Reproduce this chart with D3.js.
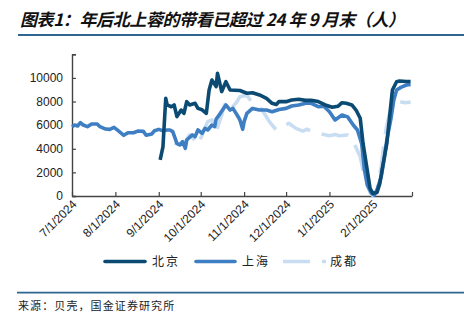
<!DOCTYPE html>
<html>
<head>
<meta charset="utf-8">
<script src="https://cdn.jsdelivr.net/npm/d3@7/dist/d3.min.js"></script>
<style>
  html, body { margin: 0; padding: 0; background: #fff; }
  svg { display: block; }
</style>
</head>
<body>
<svg id="chart" width="464" height="327"></svg>
<script>
// Daily viewing counts (people) for Beijing, Shanghai and Chengdu
const seriesNames = ["北京", "上海", "成都"];
const seriesColors = ["#0b4a72", "#3e7ec2", "#c8ddf1"];

const bjDates = ["2024-09-02","2024-09-04","2024-09-06","2024-09-07","2024-09-10","2024-09-12","2024-09-14","2024-09-17","2024-09-19","2024-09-21","2024-09-23","2024-09-27","2024-09-29","2024-10-02","2024-10-05","2024-10-07","2024-10-09","2024-10-12","2024-10-13","2024-10-16","2024-10-18","2024-10-19","2024-10-22","2024-10-29","2024-11-03","2024-11-07","2024-11-12","2024-11-17","2024-11-21","2024-11-24","2024-11-26","2024-12-01","2024-12-05","2024-12-10","2024-12-15","2024-12-19","2024-12-24","2024-12-29","2025-01-03","2025-01-07","2025-01-10","2025-01-13","2025-01-17","2025-01-20","2025-01-23","2025-01-25","2025-01-28","2025-01-30","2025-02-01","2025-02-04","2025-02-06","2025-02-08","2025-02-11","2025-02-13","2025-02-15","2025-02-18","2025-02-20","2025-02-25","2025-02-28"];
const bjValues = [3050,4170,8270,7710,7560,7710,6720,7280,7000,7990,7710,7850,7420,7300,7000,8980,9820,9260,10390,8840,9400,9680,8980,8930,8700,8750,8560,8270,7850,7750,8000,7990,8130,8190,8100,8100,8000,7710,7510,7600,7900,7850,7710,7280,6580,4460,2200,650,220,300,1070,2480,4460,6720,8980,9680,9740,9700,9700];

const shDates = ["2024-07-01","2024-07-03","2024-07-05","2024-07-07","2024-07-09","2024-07-12","2024-07-15","2024-07-19","2024-07-21","2024-07-25","2024-07-28","2024-07-31","2024-08-03","2024-08-07","2024-08-10","2024-08-14","2024-08-17","2024-08-21","2024-08-23","2024-08-27","2024-08-29","2024-09-01","2024-09-04","2024-09-07","2024-09-09","2024-09-11","2024-09-14","2024-09-16","2024-09-18","2024-09-20","2024-09-21","2024-09-25","2024-09-27","2024-09-29","2024-10-02","2024-10-04","2024-10-06","2024-10-09","2024-10-11","2024-10-12","2024-10-15","2024-10-19","2024-10-22","2024-10-24","2024-10-27","2024-10-29","2024-10-31","2024-11-01","2024-11-03","2024-11-07","2024-11-12","2024-11-17","2024-11-21","2024-11-26","2024-12-01","2024-12-05","2024-12-10","2024-12-15","2024-12-19","2024-12-24","2024-12-28","2025-01-01","2025-01-05","2025-01-10","2025-01-14","2025-01-18","2025-01-21","2025-01-24","2025-01-26","2025-01-28","2025-01-31","2025-02-02","2025-02-04","2025-02-07","2025-02-09","2025-02-11","2025-02-14","2025-02-16","2025-02-18","2025-02-21","2025-02-25","2025-02-28"];
const shValues = [5870,6010,5930,6210,6010,5870,6100,6100,5870,5670,5640,5810,5530,5140,5360,5360,5500,5470,5140,5250,5530,5640,5530,5590,5590,5450,4460,4320,4600,4040,4740,5170,5030,5590,5310,5730,5590,6010,5870,6500,7000,7710,7280,7420,6860,6440,5650,6300,7000,7420,7280,7280,7140,7330,7420,7620,7700,7850,7850,7560,7600,7140,6440,6860,6700,6010,5590,4460,2200,930,230,80,510,1640,3050,4740,6580,8130,8980,9200,9400,9450];

const cdDates = ["2024-09-12","2024-09-16","2024-09-20","2024-09-23","2024-09-27","2024-09-29","2024-10-02","2024-10-06","2024-10-09","2024-10-11","2024-10-12","2024-10-16","2024-10-18","2024-10-20","2024-10-23","2024-10-27","2024-10-29","2024-11-03","2024-11-07","2024-11-11","2024-11-14","2024-11-19","2024-11-24","2024-11-28","2024-12-03","2024-12-08","2024-12-13","2024-12-16","2024-12-21","2024-12-24","2024-12-28","2025-01-01","2025-01-05","2025-01-08","2025-01-14","2025-01-18","2025-01-23","2025-01-25","2025-01-28","2025-01-30","2025-02-01","2025-02-04","2025-02-07","2025-02-09","2025-02-11","2025-02-13","2025-02-15","2025-02-20","2025-02-24","2025-02-28"];
const cdValues = [4460,4400,4600,5170,4740,4320,5170,6300,6440,5870,5450,6860,7710,7990,7420,7990,8410,8560,7850,7600,7280,6300,5590,5800,6160,5730,5500,5650,5400,5310,5200,5110,5200,5100,5170,4600,3330,2200,1000,300,50,500,2500,4500,6000,7000,7700,8000,7900,7950];

const yTicks = [0, 2000, 4000, 6000, 8000, 10000, 12000];
const yLabels = ["0", "2000", "4000", "6000", "8000", "10000", ""];
const titleText = "图表1：年后北上蓉的带看已超过 24 年 9 月末（人）";
const sourceText = "来源：贝壳，国金证券研究所";

const parse = d3.timeParse("%Y-%m-%d");
const svg = d3.select("#chart");

const x = d3.scaleTime()
  .domain([parse("2024-07-01"), parse("2025-03-01")])
  .range([72, 412]);
const y = d3.scaleLinear().domain([0, 12000]).range([196, 54.3]);

// Title and rules
svg.append("text")
  .attr("x", 20).attr("y", 26)
  .attr("font-family", "'Noto Sans CJK SC', sans-serif")
  .attr("font-size", 17).attr("font-style", "italic").attr("font-weight", "bold")
  .attr("fill", "#111")
  .attr("textLength", 385).attr("lengthAdjust", "spacing")
  .style("white-space", "pre")
  .text(titleText);
svg.append("line").attr("x1", 18).attr("x2", 464).attr("y1", 35).attr("y2", 35)
  .attr("stroke", "#2f6690").attr("stroke-width", 1.8);
svg.append("line").attr("x1", 17).attr("x2", 464).attr("y1", 292.7).attr("y2", 292.7)
  .attr("stroke", "#2f6690").attr("stroke-width", 1.8);
svg.append("text")
  .attr("x", 18).attr("y", 310)
  .attr("font-family", "'Noto Sans CJK SC', sans-serif")
  .attr("font-size", 11).attr("letter-spacing", 1.1)
  .attr("fill", "#222")
  .text(sourceText);

// Axes
const axisColor = "#444";
const yAxis = svg.append("g")
  .attr("transform", "translate(72,0)")
  .call(d3.axisLeft(y).tickValues(yTicks).tickSize(-4).tickPadding(9)
    .tickFormat((d, i) => yLabels[i]));
yAxis.select(".domain").attr("stroke", axisColor).attr("stroke-width", 1.4);
yAxis.selectAll(".tick line").attr("stroke", axisColor).attr("stroke-width", 1.2);
yAxis.selectAll("text").attr("font-family", "'Liberation Sans', Arial, sans-serif")
  .attr("font-size", 12).attr("fill", "#222");

const monthTicks = d3.timeMonth.range(parse("2024-07-01"), parse("2025-03-02"));
const lastTick = monthTicks[monthTicks.length - 1];
const fmt = d3.timeFormat("%-m/%-d/%Y");
const xAxis = svg.append("g")
  .attr("transform", "translate(0,196)")
  .call(d3.axisBottom(x).tickValues(monthTicks).tickSize(-4).tickSizeOuter(0)
    .tickFormat(d => +d === +lastTick ? "" : fmt(d)));
xAxis.select(".domain").attr("stroke", axisColor).attr("stroke-width", 1.6);
xAxis.selectAll(".tick line").attr("stroke", axisColor).attr("stroke-width", 1.2);
xAxis.selectAll("text")
  .attr("font-family", "'Liberation Sans', Arial, sans-serif")
  .attr("font-size", 12).attr("fill", "#222")
  .attr("text-anchor", "end")
  .attr("dy", null)
  .attr("y", 0)
  .attr("transform", "translate(5,9) rotate(-45)");

// Lines
const line = d3.line().x(d => x(d[0])).y(d => y(d[1]));
const toPoints = (dates, values) => dates.map((d, i) => [parse(d), values[i]]);
const series = [
  { pts: toPoints(cdDates, cdValues), color: seriesColors[2], dash: "27 12" },
  { pts: toPoints(shDates, shValues), color: seriesColors[1], dash: null },
  { pts: toPoints(bjDates, bjValues), color: seriesColors[0], dash: null }
];
// Chengdu drawn first so the darker lines sit on top
series.forEach(s => {
  svg.append("path").datum(s.pts)
    .attr("d", line)
    .attr("fill", "none")
    .attr("stroke", s.color)
    .attr("stroke-width", 3.6)
    .attr("stroke-linejoin", "round")
    .attr("stroke-dasharray", s.dash);
});

// Legend
const legend = [
  { name: seriesNames[0], color: seriesColors[0], x0: 105, x1: 145, tx: 152, dash: null },
  { name: seriesNames[1], color: seriesColors[1], x0: 196, x1: 235, tx: 242, dash: null },
  { name: seriesNames[2], color: seriesColors[2], x0: 283, x1: 326, tx: 330, dash: "27 12" }
];
legend.forEach(l => {
  svg.append("line")
    .attr("x1", l.x0).attr("x2", l.x1).attr("y1", 261.5).attr("y2", 261.5)
    .attr("stroke", l.color).attr("stroke-width", 3.6)
    .attr("stroke-linecap", l.dash ? "butt" : "round")
    .attr("stroke-dasharray", l.dash);
  svg.append("text")
    .attr("x", l.tx).attr("y", 266)
    .attr("font-family", "'Noto Sans CJK SC', sans-serif")
    .attr("font-size", 12).attr("letter-spacing", 2)
    .attr("fill", "#222")
    .text(l.name);
});
</script>
</body>
</html>
